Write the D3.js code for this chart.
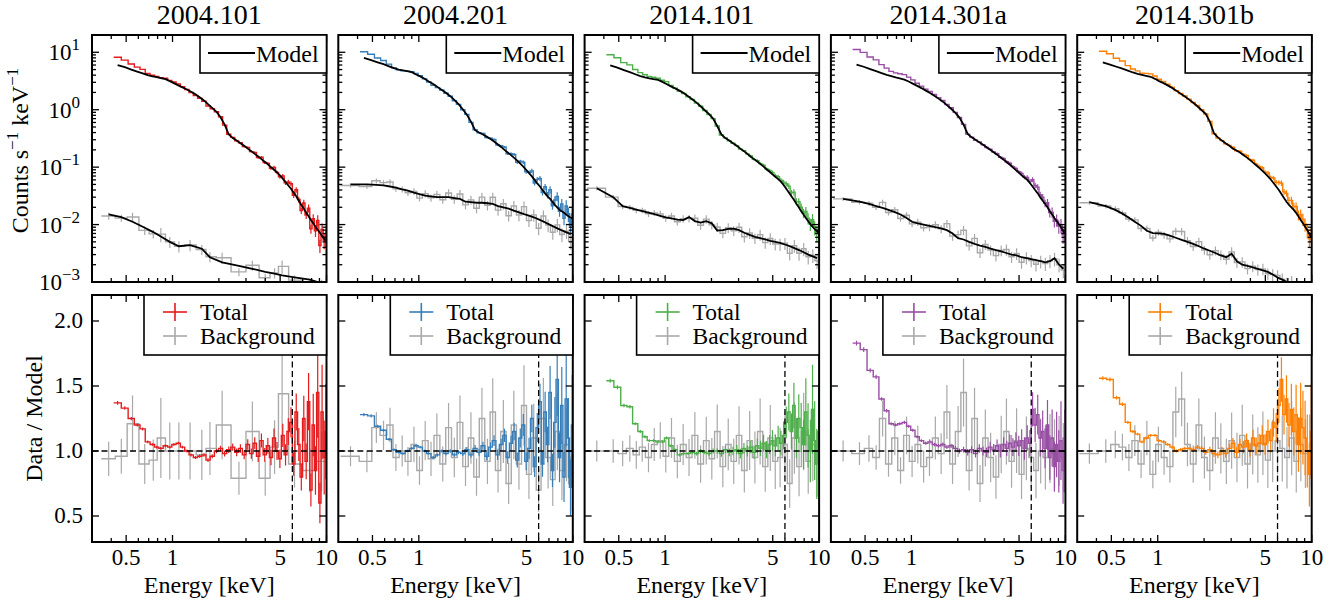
<!DOCTYPE html>
<html>
<head>
<meta charset="utf-8">
<script src="https://cdn.jsdelivr.net/npm/d3@7"></script>
<style>
body { margin: 0; background: #fff; }
</style>
</head>
<body>
<div id="chart"></div>
<script>
// observations and colours
var titles = ["2004.101", "2004.201", "2014.101", "2014.301a", "2014.301b"];
var colors = ["#e41a1c", "#377eb8", "#4daf4a", "#984ea3", "#ff7f00"];
var bgColor = "#a9a9a9";
var lineEnergy = 6.0;

// source spectrum bins (keV, bin centres) and relative errors
var srcE = [0.44,0.49,0.54,0.59,0.64,0.69,0.74,0.79,0.84,0.90,0.96,1.02,1.09,1.16,1.24,1.32,1.41,1.50,1.60,1.70,1.81,1.93,2.05,2.18,2.32,2.46,2.61,2.76,2.92,3.08,3.25,3.42,3.60,3.78,3.97,4.16,4.36,4.56,4.77,4.98,5.20,5.42,5.65,5.88,6.12,6.36,6.61,6.86,7.12,7.38,7.65,7.92,8.20,8.48,8.77,9.06,9.36,9.66,9.92];
var srcErr = [0.01,0.01,0.01,0.01,0.01,0.01,0.01,0.01,0.01,0.01,0.01,0.01,0.01,0.01,0.012,0.012,0.012,0.013,0.014,0.015,0.016,0.018,0.02,0.022,0.025,0.027,0.03,0.032,0.035,0.038,0.04,0.043,0.046,0.05,0.054,0.058,0.062,0.066,0.07,0.075,0.08,0.085,0.09,0.095,0.10,0.11,0.12,0.13,0.14,0.15,0.16,0.18,0.20,0.22,0.24,0.26,0.28,0.30,0.32];

// source model (counts s^-1 keV^-1) per observation
var model1 = [6.0,5.5,5.0,4.6,4.3,4.0,3.8,3.7,3.55,3.4,3.15,2.9,2.65,2.45,2.25,2.05,1.85,1.65,1.45,1.25,1.08,0.92,0.74,0.55,0.37,0.32,0.29,0.26,0.235,0.21,0.19,0.17,0.153,0.138,0.124,0.112,0.100,0.090,0.081,0.072,0.063,0.055,0.048,0.042,0.036,0.031,0.026,0.022,0.019,0.016,0.014,0.012,0.0105,0.0092,0.0081,0.0072,0.0063,0.0056,0.0052];
var model2 = [8.0,7.3,6.7,6.2,5.7,5.3,5.0,4.85,4.7,4.5,4.1,3.8,3.45,3.1,2.8,2.5,2.2,1.98,1.72,1.48,1.25,1.02,0.82,0.62,0.44,0.40,0.37,0.34,0.31,0.28,0.25,0.225,0.20,0.18,0.162,0.145,0.13,0.115,0.102,0.090,0.079,0.069,0.060,0.052,0.046,0.040,0.035,0.031,0.028,0.025,0.022,0.020,0.018,0.017,0.016,0.015,0.014,0.0133,0.0128];
var model3 = [5.9,5.4,4.9,4.5,4.15,3.85,3.65,3.5,3.4,3.3,3.05,2.8,2.55,2.35,2.15,1.95,1.72,1.52,1.33,1.15,0.98,0.84,0.70,0.52,0.37,0.32,0.29,0.26,0.235,0.21,0.19,0.17,0.152,0.138,0.125,0.113,0.102,0.092,0.083,0.075,0.068,0.062,0.056,0.049,0.042,0.036,0.031,0.027,0.023,0.020,0.017,0.015,0.013,0.0115,0.0102,0.0092,0.0083,0.0077,0.0072];
var model4 = [6.1,5.6,5.1,4.7,4.35,4.05,3.85,3.65,3.5,3.35,3.1,2.85,2.6,2.38,2.15,1.95,1.75,1.56,1.38,1.2,1.04,0.88,0.73,0.55,0.38,0.33,0.30,0.27,0.245,0.222,0.2,0.182,0.165,0.149,0.135,0.122,0.11,0.099,0.089,0.080,0.072,0.066,0.060,0.053,0.046,0.040,0.035,0.030,0.026,0.023,0.020,0.017,0.015,0.013,0.0115,0.0102,0.009,0.0078,0.007];
var model5 = [6.7,6.1,5.6,5.2,4.8,4.45,4.2,4.05,3.9,3.75,3.45,3.15,2.9,2.65,2.4,2.15,1.9,1.7,1.5,1.32,1.15,0.98,0.85,0.62,0.39,0.33,0.29,0.26,0.235,0.21,0.195,0.18,0.163,0.148,0.134,0.120,0.108,0.097,0.087,0.078,0.069,0.061,0.053,0.046,0.040,0.034,0.029,0.025,0.022,0.020,0.018,0.016,0.014,0.012,0.0105,0.0092,0.008,0.0069,0.006];

// total data / model
var ratio1 = [1.37,1.33,1.25,1.20,1.17,1.07,1.05,1.03,1.02,1.04,1.03,1.05,1.06,1.03,1.00,0.97,0.95,0.96,0.97,0.93,0.96,1.00,1.02,0.98,1.01,1.03,0.99,1.02,0.97,1.05,0.98,1.06,0.96,1.08,0.97,1.04,0.95,1.10,1.00,0.94,1.12,0.97,1.15,1.22,0.90,1.30,1.05,0.80,1.25,0.92,1.38,0.70,1.20,0.85,1.45,0.60,1.30,0.95,1.15];
var ratio2 = [1.28,1.27,1.19,1.16,1.09,1.01,0.99,0.98,1.00,1.02,1.04,1.03,1.00,0.98,0.95,0.97,1.00,0.98,1.00,0.97,0.99,0.98,1.01,0.97,1.02,0.99,1.04,0.96,1.03,1.08,0.97,1.05,1.12,0.95,1.06,1.15,0.93,1.10,1.20,0.92,1.02,1.25,0.88,1.18,1.38,0.90,1.30,1.05,1.45,0.85,1.22,1.55,0.95,1.35,0.80,1.40,1.10,0.72,1.20];
var ratio3 = [1.54,1.49,1.35,1.34,1.21,1.15,1.11,1.08,1.08,1.07,1.07,1.10,1.04,1.01,0.97,0.98,0.98,0.99,0.98,1.00,0.99,0.98,1.00,1.00,0.98,1.01,0.99,1.00,1.01,0.98,1.02,1.00,1.03,0.99,1.04,1.02,1.06,1.01,1.05,1.08,1.04,1.10,1.06,1.12,1.22,1.30,1.15,1.35,1.10,1.25,1.18,1.05,1.30,1.12,1.00,1.32,1.08,0.90,1.15];
var ratio4 = [1.83,1.78,1.62,1.57,1.40,1.31,1.21,1.20,1.21,1.22,1.19,1.16,1.11,1.08,1.06,1.07,1.05,1.04,1.05,1.03,1.04,1.02,1.00,1.01,0.99,1.01,0.98,1.02,1.00,0.99,1.03,1.01,1.04,1.00,1.05,1.02,1.06,1.03,1.07,1.04,1.08,1.02,1.10,1.06,1.32,1.20,1.28,1.10,1.15,1.02,1.20,0.95,1.10,0.88,1.05,0.92,1.08,0.85,1.00];
var ratio5 = [1.56,1.55,1.41,1.36,1.22,1.15,1.13,1.07,1.10,1.12,1.12,1.08,1.07,1.05,1.03,1.00,1.01,1.02,1.02,1.01,1.03,1.02,0.99,1.01,0.98,0.97,1.00,0.98,1.02,1.06,0.99,1.05,1.03,1.08,1.01,1.10,1.04,1.06,1.12,1.05,1.15,1.08,1.22,1.18,1.35,1.55,1.28,1.40,1.20,1.32,1.15,1.28,1.05,1.25,1.18,1.10,1.00,0.82,1.15];

// background: coarse bins for 2004.101, finer shared bins for the others
var bgE1 = [0.385,0.465,0.55,0.66,0.75,0.84,0.96,1.10,1.30,1.55,1.75,2.10,2.70,3.30,4.00,4.60,5.15,6.20,7.80,9.30];
var bgErr1 = [0.14,0.14,0.18,0.17,0.17,0.28,0.22,0.22,0.22,0.20,0.20,0.22,0.16,0.20,0.17,0.20,0.26,0.20,0.20,0.25];
var bgModel1 = [0.0150,0.0135,0.0112,0.0088,0.0074,0.0062,0.0050,0.0042,0.0044,0.0038,0.0027,0.0022,0.0019,0.0017,0.0015,0.0014,0.0013,0.0012,0.0011,0.00095];
var bgRatio1 = [0.94,0.96,1.21,0.90,0.93,1.10,1.00,1.00,1.00,0.97,1.02,1.20,0.79,1.15,0.79,1.03,1.44,0.90,0.85,0.92];

var bgE = [0.36,0.46,0.53,0.59,0.65,0.71,0.78,0.85,0.93,1.01,1.10,1.20,1.31,1.43,1.56,1.70,1.85,2.01,2.18,2.37,2.57,2.79,3.02,3.27,3.54,3.83,4.14,4.47,4.82,5.19,5.58,6.00,6.44,6.91,7.41,7.94,8.50,9.10,9.70];
var bgErr = [0.08,0.09,0.10,0.10,0.11,0.11,0.12,0.12,0.13,0.13,0.14,0.14,0.15,0.15,0.16,0.16,0.17,0.17,0.18,0.18,0.19,0.19,0.20,0.20,0.21,0.21,0.22,0.22,0.23,0.23,0.24,0.24,0.25,0.25,0.26,0.26,0.27,0.27,0.28];
var bgModel2 = [0.050,0.050,0.049,0.048,0.046,0.044,0.041,0.039,0.036,0.034,0.032,0.031,0.030,0.030,0.030,0.029,0.028,0.025,0.0245,0.024,0.024,0.0235,0.023,0.021,0.020,0.019,0.0175,0.0163,0.0152,0.0143,0.0134,0.0123,0.0113,0.0103,0.0094,0.0086,0.0079,0.0073,0.0068];
var bgModel3 = [0.043,0.030,0.021,0.0195,0.0182,0.0172,0.0162,0.0152,0.0142,0.0134,0.0128,0.0122,0.0120,0.0135,0.0115,0.0108,0.0115,0.0105,0.0079,0.0080,0.0084,0.0085,0.0080,0.0072,0.0066,0.0061,0.0058,0.0055,0.0052,0.0050,0.0048,0.0045,0.0042,0.0039,0.0036,0.0033,0.0030,0.0028,0.0026];
var bgModel4 = [0.028,0.025,0.023,0.021,0.0195,0.018,0.0165,0.0150,0.0130,0.0112,0.0105,0.0100,0.0095,0.0090,0.0086,0.0080,0.0070,0.0058,0.0055,0.0050,0.0046,0.0043,0.0041,0.0038,0.0036,0.0034,0.0032,0.0030,0.0029,0.0027,0.0026,0.0025,0.0024,0.0023,0.0022,0.0023,0.0026,0.0020,0.0017];
var bgModel5 = [0.0245,0.021,0.0180,0.0155,0.0132,0.0112,0.0095,0.0078,0.0071,0.0070,0.0069,0.0064,0.0059,0.0054,0.0050,0.0046,0.0042,0.0038,0.0035,0.0032,0.0029,0.0027,0.0031,0.0023,0.0020,0.0019,0.0018,0.0017,0.0016,0.0015,0.00135,0.0012,0.0011,0.0010,0.00092,0.00085,0.00078,0.00072,0.00066];
var bgRatio2 = [0.96,0.92,1.18,1.12,1.20,0.95,1.00,0.92,1.05,0.85,1.08,0.94,1.12,0.90,1.18,0.95,1.22,0.88,1.10,0.80,1.25,0.92,1.30,0.85,1.15,0.75,1.20,0.90,1.35,0.82,1.10,0.70,1.25,0.95,0.78,1.15,0.85,1.05,0.75];
var bgRatio3 = [1.00,1.00,0.98,1.02,0.97,1.03,0.95,1.05,1.08,0.96,1.10,0.92,1.05,0.95,1.12,0.90,1.08,0.94,1.15,0.88,1.05,0.92,1.12,0.85,1.08,0.95,1.15,0.88,1.10,0.92,0.95,1.05,0.75,1.10,0.88,1.15,0.92,1.05,0.90];
var bgRatio4 = [1.00,0.98,1.02,0.95,1.25,0.90,1.10,0.85,1.12,0.92,1.05,0.88,0.95,1.10,0.98,1.30,0.90,1.15,1.45,0.85,1.25,0.75,1.10,0.95,0.80,1.05,1.15,0.92,1.08,0.82,1.02,0.95,0.85,1.00,0.95,1.02,0.98,1.00,0.95];
var bgRatio5 = [0.98,1.00,1.05,1.03,0.95,1.08,0.90,1.10,0.82,1.05,0.95,0.88,1.30,1.40,1.05,0.90,1.20,0.95,0.85,1.10,1.02,0.92,1.08,0.95,1.12,0.90,1.05,0.97,1.06,0.93,1.00,1.08,1.02,0.95,1.10,0.92,1.05,0.98,1.00];

// axis ticks
var xMajor = [0.5, 1, 5, 10];
var xMinor = [0.4, 0.6, 0.7, 0.8, 0.9, 2, 3, 4, 6, 7, 8, 9];
var xLabels = ["0.5", "1", "5", "10"];
var yTopMajor = [1e-3, 1e-2, 1e-1, 1, 10];
var yTopExp = ["−3", "−2", "−1", "0", "1"];
var yBotMajor = [0.5, 1.0, 1.5, 2.0];

var panels = [
	{title: titles[0], color: colors[0], model: model1, ratio: ratio1, bgE: bgE1, bgErr: bgErr1, bgModel: bgModel1, bgRatio: bgRatio1},
	{title: titles[1], color: colors[1], model: model2, ratio: ratio2, bgE: bgE, bgErr: bgErr, bgModel: bgModel2, bgRatio: bgRatio2},
	{title: titles[2], color: colors[2], model: model3, ratio: ratio3, bgE: bgE, bgErr: bgErr, bgModel: bgModel3, bgRatio: bgRatio3},
	{title: titles[3], color: colors[3], model: model4, ratio: ratio4, bgE: bgE, bgErr: bgErr, bgModel: bgModel4, bgRatio: bgRatio4},
	{title: titles[4], color: colors[4], model: model5, ratio: ratio5, bgE: bgE, bgErr: bgErr, bgModel: bgModel5, bgRatio: bgRatio5}
];

var W = 1341, H = 606;
var left0 = 92, pitch = 246.3, pw = 234.5;
var topY = 35, topH = 247, botY = 295, botH = 247;
var serif = "Liberation Serif";

var svg = d3.select("#chart").append("svg")
	.attr("width", W)
	.attr("height", H)
	.attr("font-family", serif);

function edgesOf(c){
	var lo = [], hi = [], n = c.length;
	for(let i = 0; i < n; i++){
		lo.push(i == 0 ? c[0] - (c[1] - c[0]) / 2 : (c[i-1] + c[i]) / 2);
		hi.push(i == n - 1 ? c[i] + (c[i] - c[i-1]) / 2 : (c[i] + c[i+1]) / 2);
	}
	return {lo: lo, hi: hi};
}

function stepPath(xs, ys, E, vals){
	var e = edgesOf(E);
	var pts = E.map(function(d, j){ return [xs(e.lo[j]), ys(vals[j])]; });
	pts.push([xs(e.hi[E.length-1]), ys(vals[vals.length-1])]);
	return d3.line().curve(d3.curveStepAfter)(pts);
}

function drawSpectrum(g, xs, ys, E, vals, err, color, width){
	g.selectAll(null).data(E).enter().append("line")
		.attr("x1", function(d){ return xs(d); })
		.attr("x2", function(d){ return xs(d); })
		.attr("y1", function(d, j){ return ys(vals[j] * (1 - err[j])); })
		.attr("y2", function(d, j){ return ys(vals[j] * (1 + err[j])); })
		.attr("stroke", color)
		.attr("stroke-width", 1.2);
	g.append("path")
		.attr("d", stepPath(xs, ys, E, vals))
		.attr("fill", "none")
		.attr("stroke", color)
		.attr("stroke-width", width);
}

function drawFrame(g, x0, y0, w, h, xs, ys, yMajor, yMinor){
	var tk = 7, tkm = 4;
	var tg = g.append("g").attr("stroke", "#000").attr("stroke-width", 1.3);
	xMajor.concat(xMinor).forEach(function(v){
		var len = xMajor.indexOf(v) >= 0 ? tk : tkm;
		tg.append("line").attr("x1", xs(v)).attr("x2", xs(v)).attr("y1", y0 + h).attr("y2", y0 + h - len);
		tg.append("line").attr("x1", xs(v)).attr("x2", xs(v)).attr("y1", y0).attr("y2", y0 + len);
	});
	yMajor.concat(yMinor).forEach(function(v){
		var len = yMajor.indexOf(v) >= 0 ? tk : tkm;
		tg.append("line").attr("x1", x0).attr("x2", x0 + len).attr("y1", ys(v)).attr("y2", ys(v));
		tg.append("line").attr("x1", x0 + w).attr("x2", x0 + w - len).attr("y1", ys(v)).attr("y2", ys(v));
	});
	g.append("rect")
		.attr("x", x0).attr("y", y0).attr("width", w).attr("height", h)
		.attr("fill", "none").attr("stroke", "#000").attr("stroke-width", 2);
}

var yTopMinor = [];
yTopMajor.forEach(function(d){
	[2,3,4,5,6,7,8,9].forEach(function(k){ if(d * k <= 20) yTopMinor.push(d * k); });
});

panels.forEach(function(p, i){
	var x0 = left0 + i * pitch;
	var xs = d3.scaleLog().domain([0.3, 10]).range([x0, x0 + pw]);
	var yTop = d3.scaleLog().domain([1e-3, 20]).range([topY + topH, topY]);
	var yBot = d3.scaleLinear().domain([0.3, 2.2]).range([botY + botH, botY]);

	var defs = svg.append("defs");
	defs.append("clipPath").attr("id", "ct" + i).append("rect")
		.attr("x", x0).attr("y", topY).attr("width", pw).attr("height", topH);
	defs.append("clipPath").attr("id", "cb" + i).append("rect")
		.attr("x", x0).attr("y", botY).attr("width", pw).attr("height", botH);

	// title
	svg.append("text")
		.attr("x", x0 + pw / 2).attr("y", 24)
		.attr("text-anchor", "middle")
		.attr("font-family", serif)
		.attr("font-size", 28)
		.text(p.title);

	// top panel: spectra and models
	var gt = svg.append("g").attr("clip-path", "url(#ct" + i + ")");
	var bgData = p.bgE.map(function(d, j){ return p.bgModel[j] * p.bgRatio[j]; });
	var srcData = srcE.map(function(d, j){ return p.model[j] * p.ratio[j]; });
	drawSpectrum(gt, xs, yTop, p.bgE, bgData, p.bgErr, bgColor, 1.4);
	drawSpectrum(gt, xs, yTop, srcE, srcData, srcErr, p.color, 1.4);
	var mline = d3.line()
		.x(function(d){ return xs(d[0]); })
		.y(function(d){ return yTop(d[1]); });
	gt.append("path")
		.attr("d", mline(p.bgE.map(function(d, j){ return [d, p.bgModel[j]]; })))
		.attr("fill", "none").attr("stroke", "#000").attr("stroke-width", 1.8);
	gt.append("path")
		.attr("d", mline(srcE.map(function(d, j){ return [d, p.model[j]]; })))
		.attr("fill", "none").attr("stroke", "#000").attr("stroke-width", 1.8);

	drawFrame(svg, x0, topY, pw, topH, xs, yTop, yTopMajor, yTopMinor);

	// top legend
	var lt = svg.append("g");
	lt.append("rect")
		.attr("x", x0 + 108).attr("y", topY).attr("width", pw - 108).attr("height", 38)
		.attr("fill", "#fff").attr("stroke", "#000").attr("stroke-width", 1.6);
	lt.append("line")
		.attr("x1", x0 + 116).attr("x2", x0 + 163)
		.attr("y1", topY + 18).attr("y2", topY + 18)
		.attr("stroke", "#000").attr("stroke-width", 1.8);
	lt.append("text")
		.attr("x", x0 + 164).attr("y", topY + 27)
		.attr("font-family", serif)
		.attr("font-size", 24)
		.text("Model");

	// bottom panel: ratios
	var gb = svg.append("g").attr("clip-path", "url(#cb" + i + ")");
	drawSpectrum(gb, xs, yBot, p.bgE, p.bgRatio, p.bgErr, bgColor, 1.4);
	drawSpectrum(gb, xs, yBot, srcE, p.ratio, srcErr, p.color, 1.4);
	gb.append("line")
		.attr("x1", x0).attr("x2", x0 + pw)
		.attr("y1", yBot(1)).attr("y2", yBot(1))
		.attr("stroke", "#000").attr("stroke-width", 1.3)
		.attr("stroke-dasharray", "6,3.5");
	gb.append("line")
		.attr("x1", xs(lineEnergy)).attr("x2", xs(lineEnergy))
		.attr("y1", botY).attr("y2", botY + botH)
		.attr("stroke", "#000").attr("stroke-width", 1.3)
		.attr("stroke-dasharray", "6,3.5");

	drawFrame(svg, x0, botY, pw, botH, xs, yBot, yBotMajor, []);

	// bottom legend
	var lb = svg.append("g");
	lb.append("rect")
		.attr("x", x0 + 52).attr("y", botY).attr("width", pw - 52).attr("height", 60)
		.attr("fill", "#fff").attr("stroke", "#000").attr("stroke-width", 1.6);
	[[p.color, "Total", 17], [bgColor, "Background", 41]].forEach(function(it){
		lb.append("line")
			.attr("x1", x0 + 71).attr("x2", x0 + 95)
			.attr("y1", botY + it[2]).attr("y2", botY + it[2])
			.attr("stroke", it[0]).attr("stroke-width", 1.6);
		lb.append("line")
			.attr("x1", x0 + 83).attr("x2", x0 + 83)
			.attr("y1", botY + it[2] - 9).attr("y2", botY + it[2] + 9)
			.attr("stroke", it[0]).attr("stroke-width", 1.6);
		lb.append("text")
			.attr("x", x0 + 108).attr("y", botY + it[2] + 8)
			.attr("font-family", serif)
			.attr("font-size", 23.5)
			.text(it[1]);
	});

	// x tick labels and label
	xMajor.forEach(function(v, k){
		svg.append("text")
			.attr("x", xs(v)).attr("y", 565)
			.attr("text-anchor", "middle")
			.attr("font-family", serif)
			.attr("font-size", 23)
			.text(xLabels[k]);
	});
	svg.append("text")
		.attr("x", x0 + pw / 2).attr("y", 593)
		.attr("text-anchor", "middle")
		.attr("font-family", serif)
		.attr("font-size", 24)
		.text("Energy [keV]");

	if(i == 0){
		yTopMajor.forEach(function(v, k){
			var t = svg.append("text")
				.attr("x", x0 - 12).attr("y", yTop(v) + 8)
				.attr("text-anchor", "end")
				.attr("font-family", serif)
				.attr("font-size", 23);
			t.append("tspan").text("10");
			t.append("tspan").attr("dy", -10).attr("font-size", 17).text(yTopExp[k]);
		});
		yBotMajor.forEach(function(v){
			svg.append("text")
				.attr("x", x0 - 9).attr("y", yBot(v) + 7)
				.attr("text-anchor", "end")
				.attr("font-family", serif)
				.attr("font-size", 23)
				.text(d3.format(".1f")(v));
		});
		var yl = svg.append("text")
			.attr("transform", "translate(28," + (topY + topH / 2 - 8) + ") rotate(-90)")
			.attr("text-anchor", "middle")
			.attr("font-family", serif)
			.attr("font-size", 24);
		yl.append("tspan").text("Counts s");
		yl.append("tspan").attr("dy", -10).attr("font-size", 17).text("−1");
		yl.append("tspan").attr("dy", 10).text(" keV");
		yl.append("tspan").attr("dy", -10).attr("font-size", 17).text("−1");
		svg.append("text")
			.attr("transform", "translate(42," + (botY + botH / 2) + ") rotate(-90)")
			.attr("text-anchor", "middle")
			.attr("font-family", serif)
			.attr("font-size", 24)
			.text("Data / Model");
	}
});
</script>
</body>
</html>
